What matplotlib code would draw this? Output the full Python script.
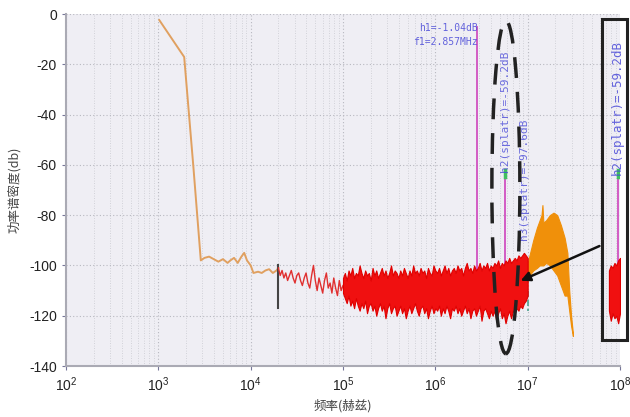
import numpy as np
import matplotlib
matplotlib.use("Agg")
import matplotlib.pyplot as plt
from matplotlib.patches import Ellipse, Rectangle, FancyArrowPatch

plt.rcParams['font.family'] = ['Liberation Sans', 'Noto Sans CJK SC', 'DejaVu Sans']

# ---- data (log10 frequency, dB) ----
low_logf = [3.01, 3.28, 3.38, 3.46, 3.50, 3.55, 3.60, 3.65, 3.70, 3.75, 3.78, 3.82,
            3.86, 3.90, 3.93, 3.96, 4.00, 4.03, 4.08, 4.12, 4.16, 4.20, 4.24, 4.28, 4.30]
low_db = [-2.4, -17.1, -61, -98, -97, -96.5, -97.5, -98.5, -97.5, -99, -98, -97,
          -99, -96.5, -95, -98, -100, -103, -102.5, -103, -102, -101.5, -103, -102, -101]

mid_logf = [4.30, 4.32, 4.34, 4.36, 4.38, 4.40, 4.42, 4.44, 4.46, 4.48, 4.50, 4.52,
            4.54, 4.56, 4.58, 4.60, 4.62, 4.64, 4.66, 4.68, 4.70, 4.72, 4.74, 4.76,
            4.78, 4.80, 4.82, 4.84, 4.86, 4.88, 4.90, 4.92, 4.94, 4.96, 4.98, 5.00]
mid_db = [-101, -104, -102, -105, -103, -106, -104, -102, -105, -107, -104, -103,
          -106, -108, -105, -103, -107, -109, -104, -100, -106, -110, -105, -108,
          -111, -106, -103, -109, -107, -111, -105, -109, -112, -106, -110, -108]

band_logf = [round(5.0 + 0.02 * i, 2) for i in range(101)]
band_hi = [-105, -103, -106, -102, -104, -101, -105, -103, -104, -100, -103,
           -105, -102, -104, -103, -106, -101, -104, -102, -105, -103,
           -101, -104, -102, -105, -103, -100, -104, -102, -103, -105,
           -102, -104, -101, -103, -105, -102, -104, -100, -103, -102,
           -104, -101, -103, -102, -105, -101, -103, -104, -100, -102,
           -103, -101, -104, -102, -100, -103, -101, -104, -102, -101,
           -103, -100, -102, -101, -104, -101, -99, -102, -101, -103,
           -100, -102, -101, -99, -102, -100, -101, -99, -102, -100,
           -101, -99, -100, -98, -101, -99, -100, -98, -99, -97,
           -99, -98, -97, -98, -96, -97, -96, -95, -96, -97]
band_lo = [-111, -113, -115, -112, -116, -114, -117, -113, -116, -118, -115,
           -117, -114, -119, -116, -115, -118, -116, -120, -117, -115,
           -118, -116, -121, -117, -115, -119, -117, -116, -120, -118,
           -116, -119, -117, -121, -118, -116, -119, -117, -115, -118,
           -120, -117, -116, -119, -117, -121, -118, -116, -119, -117,
           -118, -116, -120, -117, -119, -116, -118, -121, -117, -118,
           -116, -119, -117, -120, -118, -116, -119, -117, -121, -118,
           -117, -120, -118, -116, -122, -118, -117, -119, -121, -118,
           -120, -118, -122, -119, -117, -121, -119, -123, -120, -118,
           -121, -118, -119, -117, -118, -116, -117, -115, -114, -112]

hump_logf = [6.98, 7.02, 7.06, 7.10, 7.13, 7.15, 7.16, 7.17, 7.20, 7.24, 7.28, 7.32,
             7.36, 7.40, 7.43, 7.45, 7.47, 7.49]
hump_hi = [-102, -96, -90, -85, -82, -80, -76, -83, -82, -80, -79, -80,
           -84, -89, -95, -110, -120, -127]
hump_lo = [-108, -104, -102, -101, -100, -100, -100, -100, -99, -100, -102, -104,
           -108, -112, -112, -118, -124, -128]

right_logf = [7.88, 7.90, 7.92, 7.94, 7.96, 7.98, 8.00]
right_hi = [-102, -100, -101, -99, -100, -98, -97]
right_lo = [-118, -122, -119, -121, -120, -123, -119]

spike_f = 2.0e4
spike_db = [-100, -117]

markers_f = [2.857e6, 5.75e6, 9.5e7]
markers_top = [-5, -63, -63]
markers_bot = [-108, -108, -102]

yticks = [0, -20, -40, -60, -80, -100, -120, -140]

# ---- figure ----
fig = plt.figure(figsize=(6.3, 4.17), dpi=100)
ax = fig.add_axes([66/630, 1-366/417, 554/630, 352/417])
ax.set_facecolor('#efeef4')
ax.set_xscale('log')
ax.set_xlim(1e2, 1e8)
ax.set_ylim(-140, 0)
ax.set_yticks(yticks)
ax.set_yticklabels([str(v) for v in yticks], fontsize=10, color='#222222')
ax.set_xticks([1e2, 1e3, 1e4, 1e5, 1e6, 1e7, 1e8])
ax.tick_params(axis='x', labelsize=10, colors='#222222', length=3, color='#777799')
ax.tick_params(axis='y', length=3, color='#777799')
ax.tick_params(which='minor', length=0)
ax.grid(True, which='major', color='#b8b8c0', linestyle=(0, (1, 2)), linewidth=0.8)
ax.grid(True, which='minor', axis='x', color='#c8c8d0', linestyle=(0, (1, 2)), linewidth=0.6)
for s in ['top', 'right']:
    ax.spines[s].set_visible(False)
for s in ['left', 'bottom']:
    ax.spines[s].set_color('#aaaab4')
    ax.spines[s].set_linewidth(1.5)

ax.set_ylabel('功率谱密度(db)', fontsize=9, color='#444444',
              family=['Noto Sans CJK SC', 'DejaVu Sans'], labelpad=6)
ax.set_xlabel('频率(赫兹)', fontsize=9, color='#444444',
              family=['Noto Sans CJK SC', 'DejaVu Sans'], labelpad=4)

# marker lines
for f, t, b in zip(markers_f, markers_top, markers_bot):
    ax.plot([f, f], [t, b], color='#d050c0', lw=1.3, zorder=2)
ax.plot([markers_f[1]] * 2, [-62, -65], color='#40c060', lw=2.5, zorder=3)
ax.plot([markers_f[2]] * 2, [-62, -65], color='#40c060', lw=2.5, zorder=3)
ax.plot([1.0e7, 1.0e7], [-110, -118], color='#50a090', lw=1.2, ls='--', zorder=2)

# low-frequency line
ax.plot(10 ** np.array(low_logf), low_db, color='#e0a060', lw=1.4, zorder=3)
ax.plot([spike_f, spike_f], spike_db, color='#444444', lw=1.5, zorder=4)
ax.plot(10 ** np.array(mid_logf), mid_db, color='#e03030', lw=1.0, zorder=4)

# hump
ax.fill_between(10 ** np.array(hump_logf), hump_lo, hump_hi, color='#f0900a',
                lw=0.8, edgecolor='#f0900a', zorder=3)
# red noise band
ax.fill_between(10 ** np.array(band_logf), band_lo, band_hi, color='#f01010',
                lw=0.8, edgecolor='#e00000', zorder=4)
ax.fill_between(10 ** np.array(right_logf), right_lo, right_hi, color='#f01010',
                lw=0.8, edgecolor='#e00000', zorder=4)

# texts
tcol = '#4a4ad8'
ax.text(2.857e6, -5.5, 'h1=-1.04dB', fontsize=7, color=tcol, ha='right',
        va='center', family='DejaVu Sans Mono', alpha=0.85)
ax.text(2.857e6, -11, 'f1=2.857MHz', fontsize=7, color=tcol, ha='right',
        va='center', family='DejaVu Sans Mono', alpha=0.85)
ax.text(5.75e6, -63, 'h2(splatr)=-59.2dB', fontsize=8, color=tcol, rotation=90,
        ha='center', va='bottom', family='DejaVu Sans Mono', alpha=0.8)
ax.text(9.2e6, -90, 'h3(splatr)=-97.6dB', fontsize=8, color=tcol, rotation=90,
        ha='center', va='bottom', family='DejaVu Sans Mono', alpha=0.8)
ax.text(9.3e7, -64, 'h2(splatr)=-59.2dB', fontsize=9, color=tcol, rotation=90,
        ha='center', va='bottom', family='DejaVu Sans Mono', alpha=0.85)

# annotations
ell = Ellipse((0.794, 0.508), 0.0505, 0.946, transform=ax.transAxes, fill=False,
              edgecolor='#222222', lw=2.5, ls=(0, (6, 4)), zorder=6)
ax.add_patch(ell)
rect = Rectangle((0.9675, 0.074), 0.045, 0.912, transform=ax.transAxes, fill=False,
                 edgecolor='#222222', lw=2.2, clip_on=False, zorder=6)
ax.add_patch(rect)
arr = FancyArrowPatch((0.9675, 0.344), (0.816, 0.239), transform=ax.transAxes,
                      arrowstyle='-|>', mutation_scale=14, color='#111111', lw=1.8,
                      zorder=7, clip_on=False)
ax.add_patch(arr)

fig.savefig('out.png', dpi=100)
